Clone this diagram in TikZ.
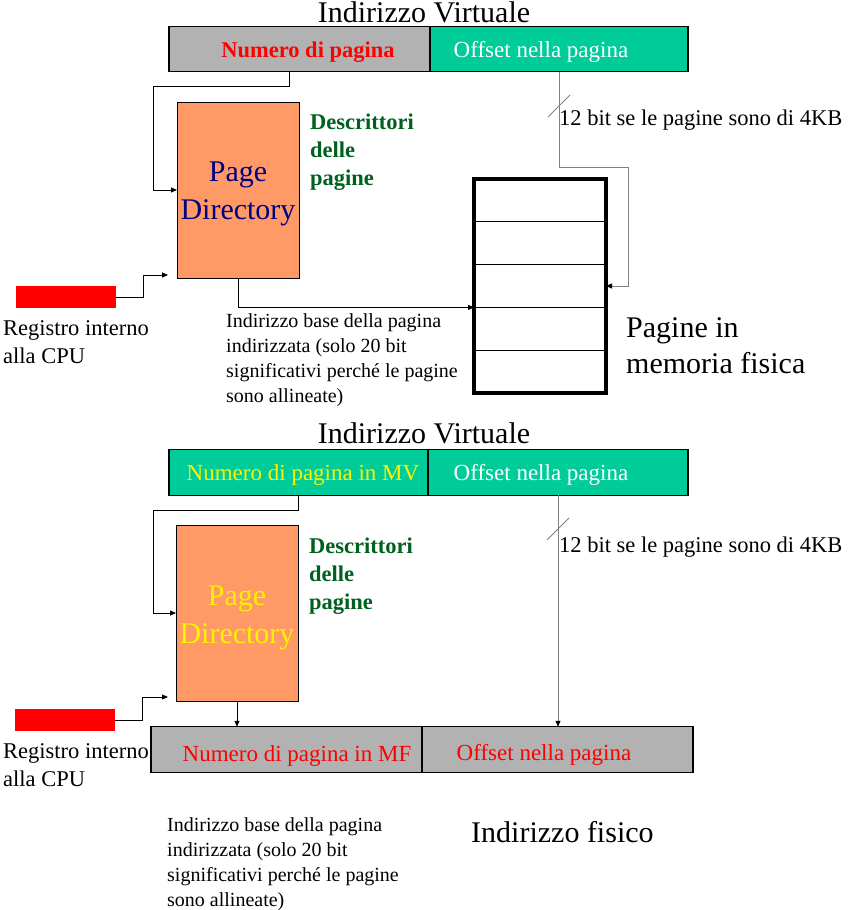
\documentclass[tikz,border=0pt]{standalone}
\usepackage{fontspec}
\setmainfont{Liberation Serif}
\usepackage{tikz}
\usetikzlibrary{arrows.meta,positioning}
\definecolor{bargray}{RGB}{178,178,178}
\definecolor{barteal}{RGB}{0,204,153}
\definecolor{pdorange}{RGB}{255,153,102}
\definecolor{pdnavy}{RGB}{0,0,128}
\definecolor{descgreen}{RGB}{0,96,32}
\definecolor{linegray}{RGB}{128,128,128}
\newcommand{\setfs}[2]{\fontsize{#1pt}{#2pt}\selectfont}

\begin{document}
\begin{tikzpicture}[x=1pt,y=-1pt,
	bar/.style={draw, line width=1.3pt, inner sep=0pt, outer sep=0pt, minimum height=45.5pt},
	pagedir/.style={draw, fill=pdorange, line width=1pt, inner sep=0pt, outer sep=0pt, minimum width=122pt, minimum height=176pt},
	pdtext/.style={anchor=base, align=center, inner sep=0pt, font=\setfs{30}{37.5}},
	reg/.style={fill=red, inner sep=0pt, outer sep=0pt, minimum width=100pt, minimum height=22pt},
	memrow/.style={draw, line width=1pt, inner sep=0pt, outer sep=0pt, minimum width=132pt, minimum height=42.8pt},
	conn/.style={line width=0.8pt, -{Triangle[length=6pt,width=5pt,black]}},
	bartext/.style={anchor=base, inner sep=0pt, font=\setfs{23}{28}},
	note/.style={anchor=base west, align=left, inner sep=0pt, font=\setfs{20}{24.7}},
	cpu/.style={anchor=base west, align=left, inner sep=0pt, font=\setfs{22.5}{28}},
	desc/.style={anchor=base west, align=left, inner sep=0pt, text=descgreen, font=\bfseries\setfs{22.5}{27.7}},
	big/.style={inner sep=0pt, align=left, font=\setfs{30}{36}}]
	\useasboundingbox (0,0) rectangle (851,910);

	\node	(titleA) at (424,22) [big, anchor=base] {Indirizzo Virtuale};
	\node	(pnA) at (299.5,49) [bar, fill=bargray, minimum width=261pt] {};
	\node	(offA) at (559,49) [bar, fill=barteal, minimum width=258pt] {};
	\node	(lblPnA) at (308,57) [bartext, text=red, font=\bfseries\setfs{22.5}{28}] {Numero di pagina};
	\node	(lblOffA) at (541,57) [bartext, text=white] {Offset nella pagina};
	\node	(pdA) at (238,190) [pagedir] {};
	\node	(pdTxtA) at (238,219) [pdtext, text=pdnavy] {Page\\Directory};
	\node	(descA) at (310,185) [desc] {Descrittori\\delle\\pagine};
	\node	(regA) at (66,297) [reg] {};
	\node	(lblRegA) at (3,363) [cpu] {Registro interno\\alla CPU};
	\node	(baseA) at (226,402) [note] {Indirizzo base della pagina\\indirizzata (solo 20 bit\\significativi perché le pagine\\sono allineate)};
	\node	(rowA1) at (540,200.4) [memrow] {};
	\node	(rowA2) [memrow, below=0pt of rowA1] {};
	\node	(rowA3) [memrow, below=0pt of rowA2] {};
	\node	(rowA4) [memrow, below=0pt of rowA3] {};
	\node	(rowA5) [memrow, below=0pt of rowA4] {};
	\draw[line width=4pt] (rowA1.north west) rectangle (rowA5.south east);
	\node	(memLbl) at (626,373) [big, anchor=base west] {Pagine in\\memoria fisica};
	\node	(bitsA) at (559,125) [cpu] {12 bit se le pagine sono di 4KB};

	\draw[conn] ([xshift=-10pt]pnA.south) -- ++(0,15) -| ([xshift=-24pt]pdA.west) -- (pdA.west);
	\draw[conn, linegray] (offA.south) -- ++(0,96) -| ([xshift=22pt]rowA3.east) -- (rowA3.east);
	\draw[conn] (pdA.south) |- (rowA3.south west);
	\draw[conn] (regA.east) -- ++(27,0) |- ([shift={(-9pt,3pt)}]pdA.south west);
	\draw[linegray, line width=0.8pt] (548,117) -- (570,95);

	\node	(titleB) at (424,443) [big, anchor=base] {Indirizzo Virtuale};
	\node	(pnB) at (298.5,472.5) [bar, fill=barteal, minimum width=259pt] {};
	\node	(offB) at (558,472.5) [bar, fill=barteal, minimum width=260pt] {};
	\node	(lblPnB) at (303,480) [bartext, text=yellow] {Numero di pagina in MV};
	\node	(lblOffB) at (541,480) [bartext, text=white] {Offset nella pagina};
	\node	(pdB) at (237,613) [pagedir] {};
	\node	(pdTxtB) at (237,643) [pdtext, text=yellow] {Page\\Directory};
	\node	(descB) at (309,609) [desc] {Descrittori\\delle\\pagine};
	\node	(regB) at (65,720) [reg] {};
	\node	(lblRegB) at (3,786) [cpu] {Registro interno\\alla CPU};
	\node	(bitsB) at (559,552) [cpu] {12 bit se le pagine sono di 4KB};
	\node	(pnF) at (286.5,749.5) [bar, fill=bargray, minimum width=271pt] {};
	\node	(offF) at (557.5,749.5) [bar, fill=bargray, minimum width=271pt] {};
	\node	(lblPnF) at (297,761) [bartext, text=red] {Numero di pagina in MF};
	\node	(lblOffF) at (544,760) [bartext, text=red] {Offset nella pagina};
	\node	(baseB) at (167,906) [note] {Indirizzo base della pagina\\indirizzata (solo 20 bit\\significativi perché le pagine\\sono allineate)};
	\node	(fisico) at (471,842) [big, anchor=base west] {Indirizzo fisico};

	\draw[conn] (pnB.south) -- ++(0,15) -| ([xshift=-23pt]pdB.west) -- (pdB.west);
	\draw[conn, linegray] (offB.south) -- (offB.south |- offF.north);
	\draw[conn] (pdB.south) -- (pdB.south |- pnF.north);
	\draw[conn] (regB.east) -- ++(27,0) |- ([shift={(-8pt,4pt)}]pdB.south west);
	\draw[linegray, line width=0.8pt] (547,540) -- (569,518);
\end{tikzpicture}
\end{document}
